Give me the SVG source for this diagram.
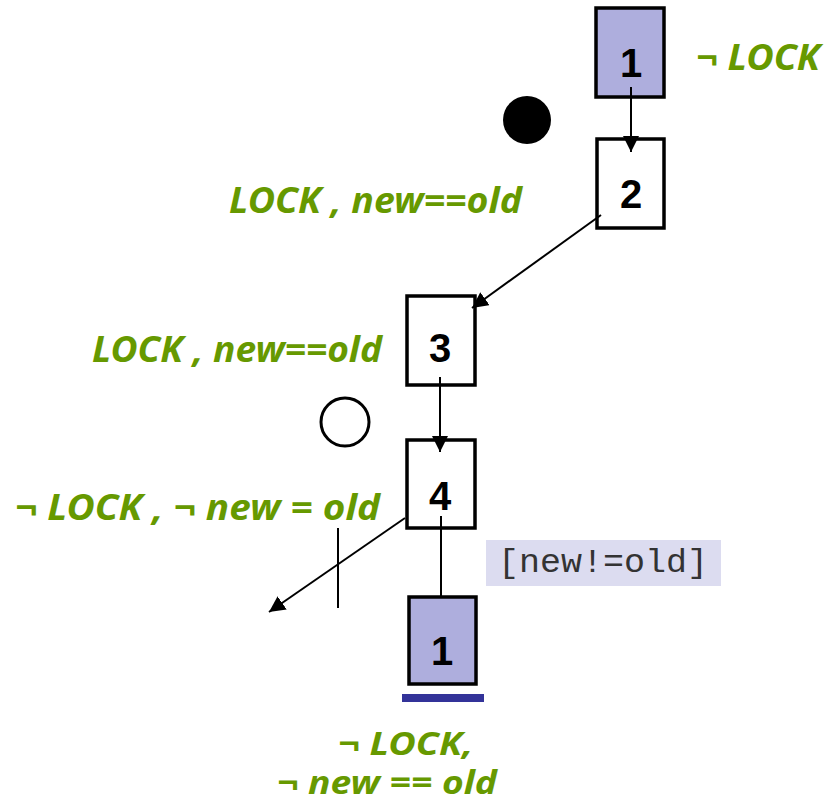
<svg xmlns="http://www.w3.org/2000/svg" width="826" height="802" viewBox="0 0 826 802">
<defs>
<style>
.box{stroke:#000;stroke-width:3.5;fill:#fff}
.init{fill:#AEAEDD}
.num{font-family:"Liberation Sans",Arial,sans-serif;font-weight:bold;font-size:40px;fill:#000;text-anchor:middle}
.lbl{font-family:"Noto Sans","DejaVu Sans",sans-serif;font-weight:bold;font-style:italic;font-size:35px;fill:#669900}
.sm{font-size:33px}
.edge{stroke:#000;stroke-width:2;fill:none}
.mono{font-family:"Liberation Mono","Courier New",monospace;font-size:34px;fill:#333}
</style>
<marker id="arrL" viewBox="0 0 16 16" refX="16" refY="8" markerWidth="16" markerHeight="16" markerUnits="userSpaceOnUse" orient="auto">
<path d="M0,0 L16,8 L0,16 Z" fill="#000"/>
</marker>
</defs>
<rect width="826" height="802" fill="#fff"/>
<g id="step1">
<rect class="box init" x="596" y="8" width="68" height="89"/>
<text class="num" x="631" y="77">1</text>
</g>
<text class="lbl" x="696" y="70" textLength="124" lengthAdjust="spacingAndGlyphs">¬ LOCK</text>
<g id="dot"><circle cx="527" cy="120" r="24" fill="#000"/></g>
<g id="step2">
<rect class="box" x="597" y="139" width="67" height="89"/>
<text class="num" x="631" y="208">2</text>
</g>
<text class="lbl" x="229" y="213" textLength="293" lengthAdjust="spacingAndGlyphs">LOCK , new==old</text>
<g id="step3">
<rect class="box" x="407" y="296" width="68" height="89"/>
<text class="num" x="440" y="362">3</text>
</g>
<text class="lbl" x="92" y="362" textLength="290" lengthAdjust="spacingAndGlyphs">LOCK , new==old</text>
<g id="circle"><circle cx="345" cy="422" r="24" fill="none" stroke="#000" stroke-width="3"/></g>
<g id="step4">
<rect class="box" x="407" y="440" width="68" height="88"/>
<text class="num" x="440" y="510">4</text>
</g>
<text class="lbl" x="15" y="520" textLength="365" lengthAdjust="spacingAndGlyphs">¬ LOCK , ¬ new = old</text>
<g id="guard">
<rect x="486" y="540" width="235" height="46" fill="#DCDCF0"/>
<text class="mono" x="498" y="572" textLength="210" lengthAdjust="spacingAndGlyphs">[new!=old]</text>
</g>
<g id="step1b">
<rect class="box init" x="409" y="597" width="67" height="87"/>
<text class="num" x="442" y="665">1</text>
<rect x="402" y="694" width="82" height="8" fill="#333399"/>
</g>
<text class="lbl sm" x="338" y="755" textLength="135" lengthAdjust="spacingAndGlyphs">¬ LOCK,</text>
<text class="lbl sm" x="277" y="794" textLength="220" lengthAdjust="spacingAndGlyphs">¬ new == old</text>
<g id="connectors">
<line class="edge" x1="631" y1="87" x2="631" y2="152" marker-end="url(#arrL)"/>
<line class="edge" x1="601" y1="215" x2="472" y2="308" marker-end="url(#arrL)"/>
<line class="edge" x1="440" y1="377" x2="440" y2="452" marker-end="url(#arrL)"/>
<line class="edge" x1="441" y1="516" x2="441" y2="597"/>
<line class="edge" x1="405" y1="518" x2="269" y2="612" marker-end="url(#arrL)"/>
<line class="edge" x1="338" y1="528" x2="338" y2="608"/>
</g>
</svg>
